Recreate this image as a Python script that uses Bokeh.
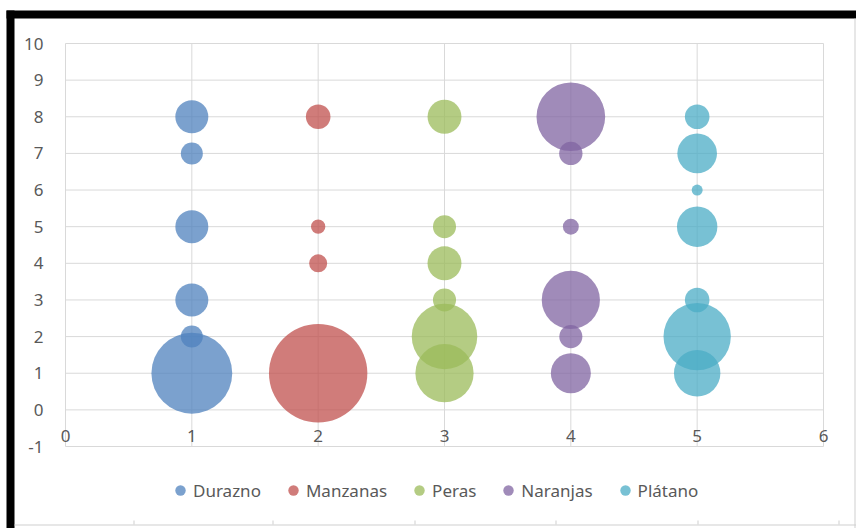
from bokeh.plotting import figure
from bokeh.models import (ColumnDataSource, FixedTicker, Legend, LegendItem,
                          BoxAnnotation, LinearAxis)
from bokeh.embed import file_html
from bokeh.resources import INLINE
import numpy as np

# ---- data -------------------------------------------------------------
series_names = ["Durazno", "Manzanas", "Peras", "Naranjas", "Plátano"]

durazno_x = [1, 1, 1, 1, 1, 1]
durazno_y = [8, 7, 5, 3, 2, 1]
durazno_size = [9, 4, 9, 9, 4, 54]

manzanas_x = [2, 2, 2, 2]
manzanas_y = [8, 5, 4, 1]
manzanas_size = [5, 1.7, 2.7, 80]

peras_x = [3, 3, 3, 3, 3, 3]
peras_y = [8, 5, 4, 3, 2, 1]
peras_size = [9.5, 4.4, 9.5, 4.4, 35.5, 28]

naranjas_x = [4, 4, 4, 4, 4, 4]
naranjas_y = [8, 7, 5, 3, 2, 1]
naranjas_size = [39, 4.5, 2.1, 28, 4.4, 13.2]

platano_x = [5, 5, 5, 5, 5, 5, 5]
platano_y = [8, 7, 6, 5, 3, 2, 1]
platano_size = [5, 13, 1, 13.5, 5, 37.5, 17.8]

x_ticks = [0, 1, 2, 3, 4, 5, 6]
y_ticks = [-1, 0, 1, 2, 3, 4, 5, 6, 7, 8, 9, 10]

colors = ["#4F81BD", "#C0504D", "#9BBB59", "#8064A2", "#4BACC6"]

series = [
    (durazno_x, durazno_y, durazno_size),
    (manzanas_x, manzanas_y, manzanas_size),
    (peras_x, peras_y, peras_size),
    (naranjas_x, naranjas_y, naranjas_size),
    (platano_x, platano_y, platano_size),
]

# ---- page geometry (pixels) ------------------------------------------
W, H = 856, 528
AREA_LEFT, AREA_RIGHT = 65, 823      # pixel columns of x = 0 and x = 6
AREA_TOP, AREA_BOTTOM = 43, 446      # pixel rows of y = 10 and y = -1

x_lo, x_hi = x_ticks[0], x_ticks[-1]
y_lo, y_hi = y_ticks[0], y_ticks[-1]
ux = (AREA_RIGHT - AREA_LEFT) / (x_hi - x_lo)
uy = (AREA_BOTTOM - AREA_TOP) / (y_hi - y_lo)


def px_x(px):
    return x_lo + (px - AREA_LEFT) / ux


def px_y(py):
    return y_lo + (AREA_BOTTOM - py) / uy


# bubble area is proportional to the size value
AREA_SCALE = 5.5  # radius in px for a size of 1

FONT = "Noto Sans"
FONT_SIZE = "17px"
TEXT_COLOR = "#595959"
GRID_COLOR = "#d9d9d9"

# the drawing frame covers the whole canvas; the chart area sits inside it
p = figure(width=W, height=H, output_backend="svg", toolbar_location=None,
           x_range=(px_x(0), px_x(W)), y_range=(px_y(H), px_y(0)),
           x_axis_location=None, y_axis_location=None,
           min_border=0)
p.background_fill_color = "white"
p.border_fill_color = "white"
p.outline_line_color = None
p.xgrid.visible = False
p.ygrid.visible = False

# grid lines bounded to the chart area
p.segment(x0=x_ticks, y0=[y_lo] * len(x_ticks), x1=x_ticks, y1=[y_hi] * len(x_ticks),
          line_color=GRID_COLOR, line_width=1)
p.segment(x0=[x_lo] * len(y_ticks), y0=y_ticks, x1=[x_hi] * len(y_ticks), y1=y_ticks,
          line_color=GRID_COLOR, line_width=1)

# horizontal axis crosses the vertical one at y = 0
xa = LinearAxis(fixed_location=0, bounds=(x_lo, x_hi),
                ticker=FixedTicker(ticks=x_ticks))
ya = LinearAxis(fixed_location=0, bounds=(y_lo, y_hi),
                ticker=FixedTicker(ticks=y_ticks))
xa.major_label_standoff = 14
ya.major_label_standoff = 16
ya.major_label_overrides = {t: str(t) for t in y_ticks}
for ax in (xa, ya):
    ax.axis_line_color = None
    ax.major_tick_line_color = None
    ax.minor_tick_line_color = None
    ax.major_label_text_font = FONT
    ax.major_label_text_font_size = FONT_SIZE
    ax.major_label_text_color = TEXT_COLOR
p.add_layout(xa, "below")
p.add_layout(ya, "left")

items = []
for name, color, (xs, ys, ss) in zip(series_names, colors, series):
    diam = 2 * AREA_SCALE * np.sqrt(np.array(ss, dtype=float))
    src = ColumnDataSource(dict(x=xs, y=ys, d=diam))
    r = p.scatter("x", "y", size="d", source=src, marker="circle",
                  fill_color=color, fill_alpha=0.75, line_alpha=0)
    items.append(LegendItem(label=name, renderers=[r]))

legend = Legend(items=items, orientation="horizontal",
                location=(167, 25), padding=0, margin=0, spacing=19,
                glyph_width=26, glyph_height=26, label_standoff=-3,
                label_text_font=FONT, label_text_font_size=FONT_SIZE,
                label_text_color=TEXT_COLOR,
                border_line_color=None, background_fill_alpha=0)
p.add_layout(legend, "center")

# sheet frame: thick black top/left edge, thin grey cell lines right/bottom
frame_boxes = [
    (6, W, 10, 18, "black"),
    (6, 14, 10, H, "black"),
    (854, 855, 18, H, "#d0d0d0"),
    (14, W, 524, 525, "#d0d0d0"),
]
for cx in (133, 272, 414, 555, 697, 838):
    frame_boxes.append((cx, cx + 1, 520, 524, "#d0d0d0"))

for left, right, top, bottom, fc in frame_boxes:
    p.add_layout(BoxAnnotation(left=px_x(left), right=px_x(right),
                               top=px_y(top), bottom=px_y(bottom),
                               fill_color=fc, fill_alpha=1,
                               line_color=None, level="overlay"))

open("out.html", "w").write(file_html(p, INLINE))
